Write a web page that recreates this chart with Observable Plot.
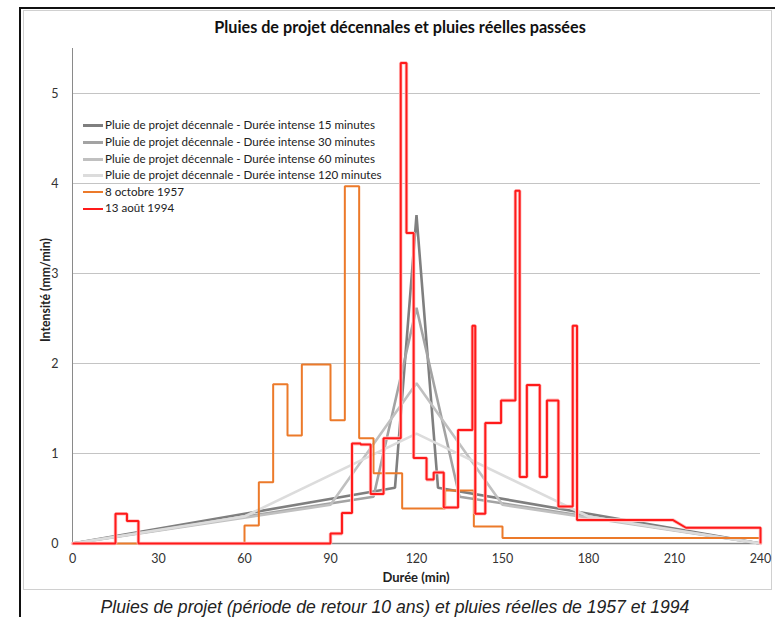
<!DOCTYPE html>
<html><head><meta charset="utf-8">
<script src="https://cdn.jsdelivr.net/npm/d3@7"></script>
<script src="https://cdn.jsdelivr.net/npm/@observablehq/plot@0.6"></script>
<style>
body{margin:0;background:#fff;}
#wrap{position:relative;width:775px;height:617px;overflow:hidden;font-family:Lato,"Open Sans",sans-serif;background:#fff;}
#outer{position:absolute;left:19px;top:7px;width:800px;height:700px;border-left:2px solid #111;border-top:2px solid #111;}
#box{position:absolute;left:23px;top:10px;width:747px;height:578px;border:1px solid #d0d0d0;}
#title{position:absolute;left:0;width:800px;top:17px;text-align:center;font-weight:bold;font-size:16.2px;color:#111;}
#chart{position:absolute;left:0;top:0;}
#ylab{position:absolute;left:45px;top:290px;transform:translate(-50%,-50%) rotate(-90deg);font-weight:bold;font-size:12.3px;color:#222;white-space:nowrap;}
#xlab{position:absolute;left:416px;top:577px;transform:translate(-50%,-50%);font-weight:bold;font-size:13px;color:#222;white-space:nowrap;}
#legend{position:absolute;left:83px;top:117px;font-size:11.6px;color:#222;}
.row{position:absolute;left:0;height:16px;white-space:nowrap;}
.sw{position:absolute;left:0;top:7px;width:20px;height:3px;}
.lt{position:absolute;left:22px;top:0;line-height:16px;}
#caption{position:absolute;left:0;width:790px;top:597px;text-align:center;font-family:"Liberation Sans",Arial,sans-serif;font-style:italic;font-size:17.6px;color:#222;}
</style></head><body>
<div id="wrap">
  <div id="outer"></div>
  <div id="box"></div>
  <div id="title">Pluies de projet décennales et pluies réelles passées</div>
  <div id="chart"></div>
  <div id="ylab">Intensité (mm/min)</div>
  <div id="xlab">Durée (min)</div>
  <div id="legend"></div>
  <div id="caption">Pluies de projet (période de retour 10 ans) et pluies réelles de 1957 et 1994</div>
</div>
<script>
// ---- Data ----
const xTicks = [0, 30, 60, 90, 120, 150, 180, 210, 240];
const yTicks = [0, 1, 2, 3, 4, 5];

const seriesNames = [
  "Pluie de projet décennale - Durée intense 15 minutes",
  "Pluie de projet décennale - Durée intense 30 minutes",
  "Pluie de projet décennale - Durée intense 60 minutes",
  "Pluie de projet décennale - Durée intense 120 minutes",
  "8 octobre 1957",
  "13 août 1994"
];
const seriesColors = ["#7f7f7f", "#a3a3a3", "#c0c0c0", "#dcdcdc", "#ec7a2a", "#ff1a1a"];

// Design storms (double triangle)
const projet15X = [0, 112.5, 120, 127.5, 240];
const projet15Y = [0, 0.62, 3.65, 0.62, 0];
const projet30X = [0, 105, 120, 135, 240];
const projet30Y = [0, 0.52, 2.62, 0.52, 0];
const projet60X = [0, 90, 120, 150, 240];
const projet60Y = [0, 0.43, 1.78, 0.43, 0];
const projet120X = [0, 60, 120, 180, 240];
const projet120Y = [0, 0.3, 1.22, 0.3, 0];

// 8 octobre 1957 (steps)
const oct1957Debut = [0, 60, 65, 70, 75, 80, 90, 95, 100, 105, 115, 130, 140, 150];
const oct1957Fin   = [60, 65, 70, 75, 80, 90, 95, 100, 105, 115, 130, 140, 150, 240];
const oct1957Val   = [0, 0.2, 0.68, 1.77, 1.2, 1.99, 1.37, 3.97, 1.17, 0.78, 0.39, 0.59, 0.19, 0.06];

// 13 août 1994 (steps)
const aout1994Debut = [0, 15, 19, 23, 90, 94, 97.5, 100.5, 104, 108.5, 114.5, 116.5, 119, 123.5, 126, 129.5, 134.5, 139.5, 140.5, 144, 149.5, 154.5, 156, 158.5, 163, 165.5, 169.5, 174.5, 176, 214, 240];
const aout1994Fin   = [15, 19, 23, 90, 94, 97.5, 100.5, 104, 108.5, 114.5, 116.5, 119, 123.5, 126, 129.5, 134.5, 139.5, 140.5, 144, 149.5, 154.5, 156, 158.5, 163, 165.5, 169.5, 174.5, 176, 209.5, 240, 240];
const aout1994Val   = [0, 0.33, 0.25, 0, 0.11, 0.34, 1.11, 1.10, 0.55, 1.17, 5.34, 3.45, 0.95, 0.71, 0.79, 0.40, 1.26, 2.42, 0.33, 1.34, 1.59, 3.92, 0.74, 1.76, 0.74, 1.59, 0.41, 2.42, 0.26, 0.175, 0];

// ---- Build ----
const pts = (xs, ys) => xs.map((x, i) => ({x, y: ys[i]}));
const steps = (d, f, v) => d.flatMap((x0, i) => [{x: x0, y: v[i]}, {x: f[i], y: v[i]}]);

const series = [
  pts(projet15X, projet15Y),
  pts(projet30X, projet30Y),
  pts(projet60X, projet60Y),
  pts(projet120X, projet120Y),
  steps(oct1957Debut, oct1957Fin, oct1957Val),
  steps(aout1994Debut, aout1994Fin, aout1994Val)
];
const widths = [2.6, 2.6, 2.6, 2.6, 2, 2];

const lineMarks = series.flatMap((data, i) => {
  const main = Plot.line(data, {x: "x", y: "y", stroke: seriesColors[i], strokeWidth: widths[i], strokeLinejoin: "miter", strokeLinecap: "butt"});
  if (i === 5) {
    return [Plot.line(data, {x: "x", y: "y", stroke: "#ffc4c4", strokeWidth: 3.6, strokeLinejoin: "miter"}), main];
  }
  return [main];
});

const chart = Plot.plot({
  width: 775,
  height: 617,
  marginLeft: 72,
  marginRight: 15,
  marginTop: 48,
  marginBottom: 74,
  style: {fontFamily: "Lato, sans-serif", fontSize: "12.5px", color: "#333", background: "transparent"},
  x: {domain: [0, 240]},
  y: {domain: [0, 5.5]},
  marks: [
    Plot.gridY(yTicks.filter(t => t > 0), {stroke: "#c4c4c4", strokeOpacity: 1, strokeWidth: 1}),
    Plot.ruleX([0], {stroke: "#8a8a8a", strokeWidth: 1}),
    Plot.ruleY([0], {stroke: "#8a8a8a", strokeWidth: 1.5}),
    Plot.axisX({ticks: xTicks, tickFormat: d => String(d), tickSize: 0, tickPadding: 11, label: null}),
    Plot.axisY({ticks: yTicks, tickFormat: d => String(d), tickSize: 0, tickPadding: 14, label: null}),
    ...lineMarks
  ]
});
document.getElementById("chart").appendChild(chart);

// Legend
const rowTops = [0, 17, 33.5, 50, 66.5, 83];
const legend = document.getElementById("legend");
seriesNames.forEach((name, i) => {
  const row = document.createElement("div");
  row.className = "row";
  row.style.top = rowTops[i] + "px";
  const sw = document.createElement("div");
  sw.className = "sw";
  sw.style.background = seriesColors[i];
  if (i >= 4) { sw.style.height = "2px"; sw.style.top = "7.5px"; }
  const t = document.createElement("div");
  t.className = "lt";
  t.textContent = name;
  row.appendChild(sw); row.appendChild(t);
  legend.appendChild(row);
});
</script>
</body></html>
